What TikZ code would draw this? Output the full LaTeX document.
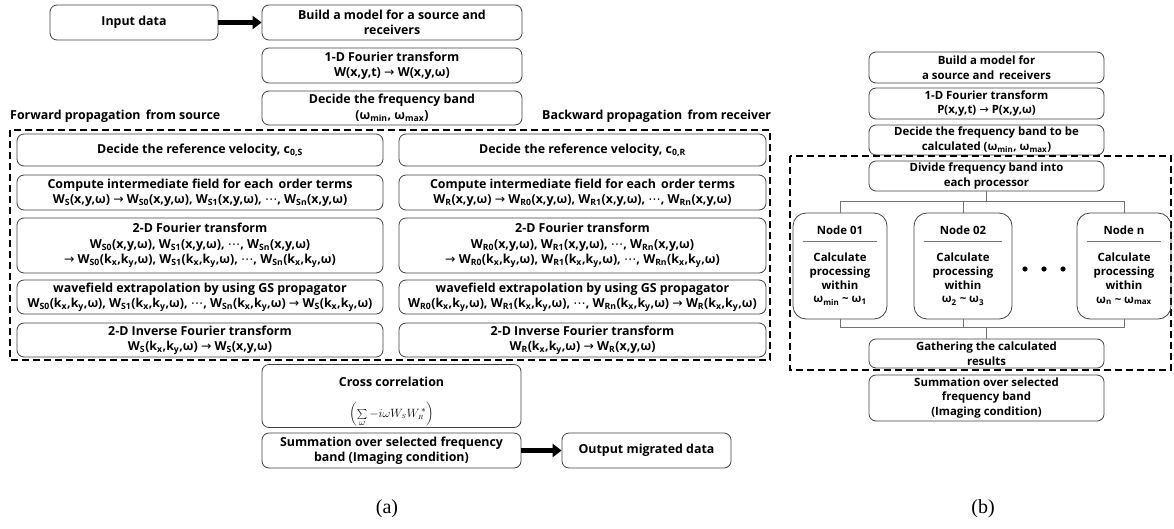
\documentclass[tikz,border=0pt]{standalone}
\usepackage{fontspec}
\setmainfont{Open Sans}
\newfontfamily\symfont{DejaVu Sans}
\newfontfamily\capfont{Liberation Serif}
\usetikzlibrary{arrows.meta}
\newcommand{\toarr}{{\symfont\mdseries →}}
\newcommand{\dotsarr}{{\symfont\mdseries ⋯}}
\newcommand{\sbs}[1]{\textsubscript{#1}}
\tikzset{
  box/.style={draw=black!75, line width=0.8pt, rounded corners=7pt, align=center, inner sep=1pt,
    font=\bfseries\fontsize{12.4}{15.5}\selectfont},
  boxb/.style={box, font=\bfseries\fontsize{11.4}{14.5}\selectfont},
  nodebox/.style={draw=black!75, line width=0.8pt, rounded corners=13pt, minimum height=106pt},
  fatarrow/.style={line width=5pt, -{Triangle[length=9pt,width=13pt]}},
  frame/.style={dashed, line width=1.4pt, dash pattern=on 7pt off 4pt},
  link/.style={draw=black!55, line width=0.8pt},
  heading/.style={font=\bfseries\fontsize{12.4}{15.5}\selectfont, anchor=west, inner sep=0pt}
}
\begin{document}
\begin{tikzpicture}[x=1pt, y=-1pt]
\useasboundingbox (0,0) rectangle (1174,528);
% (a) top part
\node[box, minimum width=168, minimum height=35] (input) at (134,22.5) {Input data};
\node[box, minimum width=260, minimum height=35] (build) at (392,22.5) {Build a model for a source and\\receivers};
\node[box, minimum width=260, minimum height=35] (four) at (392,65.5) {1-D Fourier transform\\W(x,y,t) \toarr{} W(x,y,ω)};
\node[box, minimum width=260, minimum height=34] (band) at (392,108) {Decide the frequency band\\(ω\sbs{min}, ω\sbs{max})};
\draw[fatarrow] (input) -- (build);
\node[heading] (fwd) at (10,116) {Forward propagation\, from source};
\node[heading] (bwd) at (542,116) {Backward propagation\, from receiver};
\draw[frame] (10,130) rectangle (770,360);
% forward column
\node[box, minimum width=366, minimum height=32] (s1) at (200,150) {Decide the reference velocity, c\sbs{0,S}};
\node[box, minimum width=366, minimum height=35] (s2) at (200,192.5) {Compute intermediate field for each\, order terms\\W\sbs{S}(x,y,ω) \toarr{} W\sbs{S0}(x,y,ω), W\sbs{S1}(x,y,ω), \dotsarr, W\sbs{Sn}(x,y,ω)};
\node[box, minimum width=366, minimum height=55] (s3) at (200,245.5) {2-D Fourier transform\\W\sbs{S0}(x,y,ω), W\sbs{S1}(x,y,ω), \dotsarr, W\sbs{Sn}(x,y,ω)\\\toarr{} W\sbs{S0}(k\sbs{x},k\sbs{y},ω), W\sbs{S1}(k\sbs{x},k\sbs{y},ω), \dotsarr, W\sbs{Sn}(k\sbs{x},k\sbs{y},ω)};
\node[box, minimum width=366, minimum height=34] (s4) at (200,297) {wavefield extrapolation by using GS propagator\\W\sbs{S0}(k\sbs{x},k\sbs{y},ω), W\sbs{S1}(k\sbs{x},k\sbs{y},ω), \dotsarr, W\sbs{Sn}(k\sbs{x},k\sbs{y},ω) \toarr{} W\sbs{S}(k\sbs{x},k\sbs{y},ω)};
\node[box, minimum width=366, minimum height=34] (s5) at (200,340) {2-D Inverse Fourier transform\\W\sbs{S}(k\sbs{x},k\sbs{y},ω) \toarr{} W\sbs{S}(x,y,ω)};
% backward column
\node[box, minimum width=367, minimum height=32] (r1) at (582.5,150) {Decide the reference velocity, c\sbs{0,R}};
\node[box, minimum width=367, minimum height=35] (r2) at (582.5,192.5) {Compute intermediate field for each\, order terms\\W\sbs{R}(x,y,ω) \toarr{} W\sbs{R0}(x,y,ω), W\sbs{R1}(x,y,ω), \dotsarr, W\sbs{Rn}(x,y,ω)};
\node[box, minimum width=367, minimum height=55] (r3) at (582.5,245.5) {2-D Fourier transform\\W\sbs{R0}(x,y,ω), W\sbs{R1}(x,y,ω), \dotsarr, W\sbs{Rn}(x,y,ω)\\\toarr{} W\sbs{R0}(k\sbs{x},k\sbs{y},ω), W\sbs{R1}(k\sbs{x},k\sbs{y},ω), \dotsarr, W\sbs{Rn}(k\sbs{x},k\sbs{y},ω)};
\node[box, minimum width=367, minimum height=34] (r4) at (582.5,297) {wavefield extrapolation by using GS propagator\\W\sbs{R0}(k\sbs{x},k\sbs{y},ω), W\sbs{R1}(k\sbs{x},k\sbs{y},ω), \dotsarr, W\sbs{Rn}(k\sbs{x},k\sbs{y},ω) \toarr{} W\sbs{R}(k\sbs{x},k\sbs{y},ω)};
\node[box, minimum width=367, minimum height=34] (r5) at (582.5,340) {2-D Inverse Fourier transform\\W\sbs{R}(k\sbs{x},k\sbs{y},ω) \toarr{} W\sbs{R}(x,y,ω)};
% imaging
\node[box, minimum width=259, minimum height=63] (xcor) at (391.5,396) {};
\node[font=\bfseries\fontsize{12.4}{15.5}\selectfont, inner sep=0pt] (xcort) at (391.5,382) {Cross correlation};
\node[font=\fontsize{13}{15}\selectfont, inner sep=0pt] (xform) at (391.5,414) {$\left(\sum\limits_{\omega} -i\omega W_{\scriptscriptstyle S} W_{\scriptscriptstyle R}^{\,*}\right)$};
\node[box, minimum width=259, minimum height=35] (sum) at (391.5,450.5) {Summation over selected frequency\\band (Imaging condition)};
\node[box, minimum width=169, minimum height=35] (out) at (646.5,450.5) {Output migrated data};
\draw[fatarrow] (sum) -- (out);
\node[font=\capfont\fontsize{20}{22}\selectfont] (capa) at (387,509) {(a)};
% (b)
\node[boxb, minimum width=235, minimum height=31] (pbuild) at (986.5,67.5) {Build a model for\\a source and\, receivers};
\node[boxb, minimum width=235, minimum height=31] (pfour) at (986.5,103.5) {1-D Fourier transform\\P(x,y,t) \toarr{} P(x,y,ω)};
\node[boxb, minimum width=235, minimum height=30] (pband) at (986.5,140) {Decide the frequency band to be\\calculated (ω\sbs{min}, ω\sbs{max})};
\draw[frame] (790,156) rectangle (1171,370);
\node[boxb, minimum width=235, minimum height=30] (pdiv) at (986.5,176) {Divide frequency band into\\each processor};
\node[nodebox, minimum width=94] (nd1) at (840,266) {};
\node[nodebox, minimum width=98] (nd2) at (963,266) {};
\node[nodebox, minimum width=94] (ndn) at (1124,266) {};
\foreach \nd/\ttl/\rng in {nd1/Node 01/ω\sbs{min} \textasciitilde{} ω\sbs{1}, nd2/Node 02/ω\sbs{2} \textasciitilde{} ω\sbs{3}, ndn/Node n/ω\sbs{n} \textasciitilde{} ω\sbs{max}} {
  \node[font=\bfseries\fontsize{11.4}{14}\selectfont, inner sep=0pt] (\nd t) at ([yshift=-18pt]\nd.north) {\ttl};
  \draw[link] ([xshift=10pt,yshift=-29pt]\nd.north west) -- ([xshift=-10pt,yshift=-29pt]\nd.north east);
  \node[font=\bfseries\fontsize{11.4}{13.8}\selectfont, align=center, inner sep=0pt] (\nd b) at ([yshift=-13pt]\nd.center) {Calculate\\processing\\within\\\rng};
}
\foreach \dx in {1025,1044,1063}
  \fill (\dx,269) circle (2.6);
\draw[link] (pdiv.south) -- ++(0,11);
\draw[link] (nd1.north) -- ++(0,-11) -| (ndn.north);
\draw[link] (nd2.north) -- ++(0,-11);
\node[boxb, minimum width=235, minimum height=29] (gath) at (986.5,353.5) {Gathering the calculated\\results};
\draw[link] (nd1.south) -- ++(0,8) -| (ndn.south);
\draw[link] (nd2.south) -- ++(0,8);
\draw[link] (gath.north) -- ++(0,-12);
\node[boxb, minimum width=235, minimum height=46] (psum) at (986.5,398) {Summation over selected\\frequency band\\(Imaging condition)};
\node[font=\capfont\fontsize{20}{22}\selectfont] (capb) at (983,509) {(b)};
\end{tikzpicture}
\end{document}
